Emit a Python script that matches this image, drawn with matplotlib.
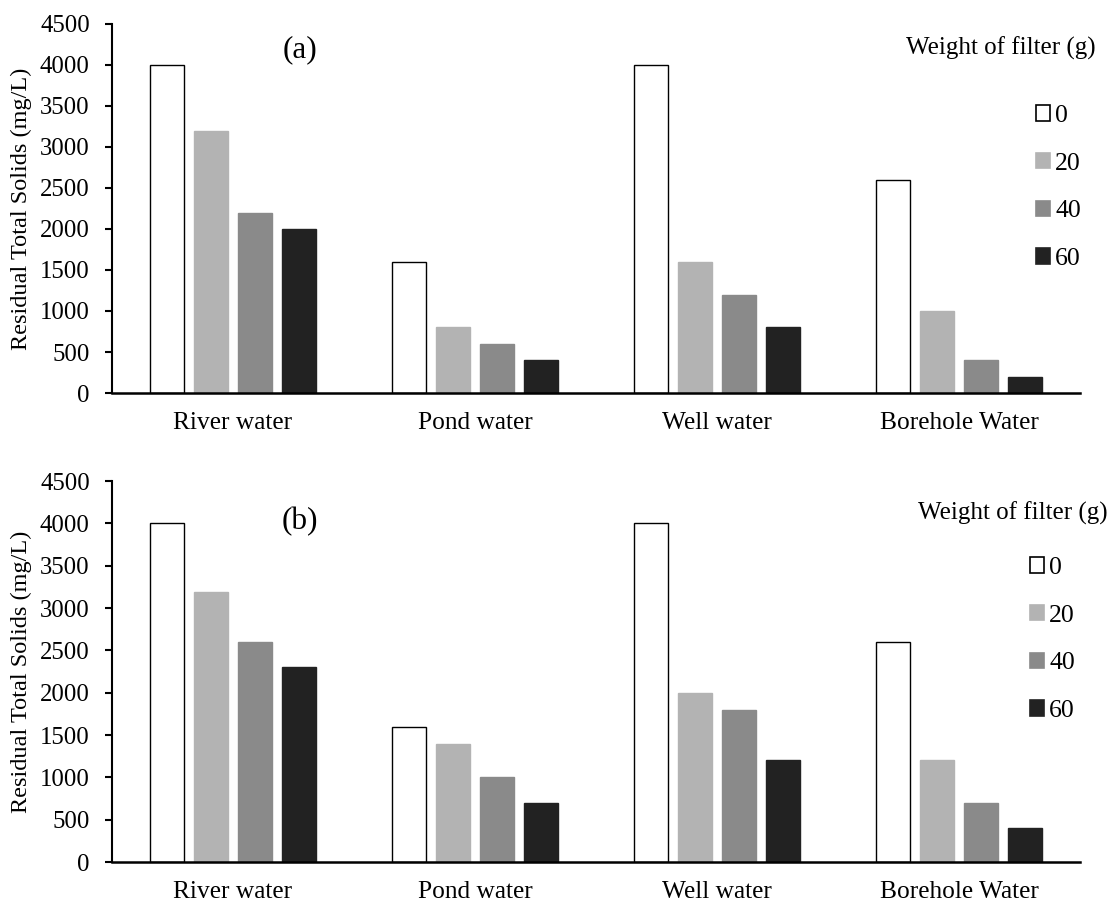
import numpy as np
import matplotlib.pyplot as plt
from matplotlib.patches import Patch

plt.rcParams['font.family'] = ['Liberation Serif', 'DejaVu Serif']

categories = ['River water', 'Pond water', 'Well water', 'Borehole Water']
weights = ['0', '20', '40', '60']

# residual total solids (mg/L), one list per filter weight
a_0 = [4000, 1600, 4000, 2600]
a_20 = [3200, 800, 1600, 1000]
a_40 = [2200, 600, 1200, 400]
a_60 = [2000, 400, 800, 200]

b_0 = [4000, 1600, 4000, 2600]
b_20 = [3190, 1400, 2000, 1200]
b_40 = [2600, 1000, 1800, 700]
b_60 = [2300, 700, 1200, 400]

colors = ['white', '#b3b3b3', '#8a8a8a', '#222222']
edges = ['black', '#b3b3b3', '#8a8a8a', '#222222']

fig = plt.figure(figsize=(11.1, 9.02), dpi=100)
ax1 = fig.add_axes([0.1009, 0.5643, 0.8721, 0.4091])
ax2 = fig.add_axes([0.1009, 0.0443, 0.8721, 0.4224])

x = np.arange(len(categories))
step = 0.182
width = 0.14


def draw_panel(ax, series, tag, tag_y, title_xy, leg_xy):
    for k, vals in enumerate(series):
        ax.bar(x + (k - 1.5) * step, vals, width, color=colors[k],
               edgecolor=edges[k], linewidth=1.0, label=weights[k])
    ax.set_xlim(-0.5, 3.5)
    ax.set_ylim(0, 4500)
    ax.set_yticks(range(0, 4501, 500))
    ax.set_xticks(x)
    ax.set_xticklabels(categories)
    ax.spines['top'].set_visible(False)
    ax.spines['right'].set_visible(False)
    ax.spines['left'].set_linewidth(1.5)
    ax.spines['bottom'].set_linewidth(1.8)
    ax.tick_params(axis='y', direction='out', length=5, width=1.5,
                   pad=11, labelsize=17.8)
    ax.tick_params(axis='x', length=0, pad=14, labelsize=18.3)
    ax.set_ylabel('Residual Total Solids (mg/L)', fontsize=17.5, labelpad=6)
    fig.text(300 / 1110, 1 - tag_y / 902, tag, fontsize=22.5,
             ha='center', va='center')
    fig.text(title_xy[0] / 1110, 1 - title_xy[1] / 902,
             'Weight of filter (g)', fontsize=18, ha='right', va='center')
    handles = [Patch(facecolor=colors[k], edgecolor=edges[k], linewidth=1.2)
               for k in range(4)]
    ax.legend(handles, weights, loc='upper left',
              bbox_to_anchor=(leg_xy[0] / 1110, 1 - leg_xy[1] / 902),
              bbox_transform=fig.transFigure, frameon=False, fontsize=18.5,
              handlelength=0.55, handleheight=0.55, handletextpad=0.2,
              labelspacing=1.0, borderpad=0, borderaxespad=0)


draw_panel(ax1, [a_0, a_20, a_40, a_60], '(a)', 50, (1096, 48), (1036, 105))
draw_panel(ax2, [b_0, b_20, b_40, b_60], '(b)', 522, (1108, 513), (1030, 557))

fig.savefig('out.png', dpi=100)
